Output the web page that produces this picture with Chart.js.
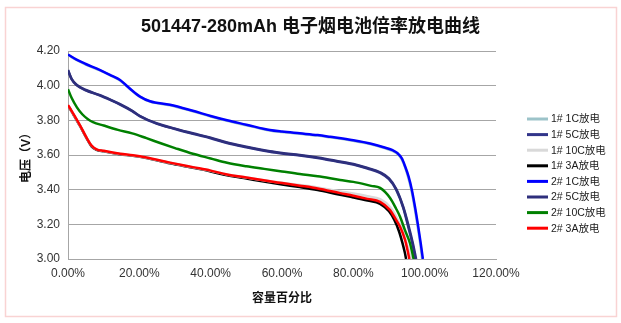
<!DOCTYPE html>
<html>
<head>
<meta charset="utf-8">
<script src="https://cdn.jsdelivr.net/npm/chart.js@4.4.1/dist/chart.umd.min.js"></script>
<style>
  html, body { margin: 0; padding: 0; background: #ffffff; }
  #wrap { position: relative; width: 621px; height: 323px; }
</style>
</head>
<body>
<div id="wrap"><canvas id="c" width="621" height="323"></canvas></div>
<script>
// Discharge capacity (%) and voltage (V) for each cell / rate
const cap_1_1C  = [0, 2.4, 5, 9, 12, 14.6, 16, 17.8, 20.2, 23, 28.6, 35, 40, 44.6, 50, 56.6, 60, 65, 70, 73.5, 80, 85, 89, 91, 92.3, 93.6, 94.5, 95.4, 96.3, 97.2, 98.1, 98.8, 99.3];
const volt_1_1C = [4.178, 4.148, 4.122, 4.088, 4.058, 4.03, 4.006, 3.973, 3.935, 3.908, 3.887, 3.852, 3.822, 3.797, 3.772, 3.741, 3.732, 3.722, 3.712, 3.702, 3.682, 3.662, 3.638, 3.624, 3.608, 3.575, 3.53, 3.47, 3.395, 3.295, 3.18, 3.085, 3.00];

const cap_1_5C  = [0, 1, 2.4, 5, 9, 12, 14.6, 18, 20.2, 25, 30, 35, 40, 44.6, 50, 56.6, 60, 65, 70, 73.5, 80, 84, 87.5, 90, 92, 94, 95.4, 96.6, 97.4];
const volt_1_5C = [4.088, 4.038, 4.003, 3.973, 3.943, 3.916, 3.891, 3.853, 3.823, 3.78, 3.75, 3.722, 3.697, 3.669, 3.645, 3.619, 3.609, 3.597, 3.582, 3.569, 3.545, 3.522, 3.497, 3.46, 3.40, 3.295, 3.185, 3.085, 3.00];

const cap_1_10C  = [0, 1, 2, 3.4, 5.2, 6.6, 8, 10, 14.6, 18.2, 22, 28.6, 35, 40, 44.6, 50, 56.6, 60, 65, 70, 76.3, 80, 84, 87.5, 90.3, 92, 93.5, 94.8, 95.7, 96.3];
const volt_1_10C = [3.886, 3.853, 3.818, 3.768, 3.70, 3.654, 3.632, 3.623, 3.606, 3.597, 3.584, 3.555, 3.529, 3.509, 3.488, 3.47, 3.449, 3.44, 3.427, 3.413, 3.39, 3.378, 3.362, 3.345, 3.30, 3.245, 3.18, 3.10, 3.04, 3.00];

const cap_1_3A  = [0, 1, 2, 3.4, 5.2, 6.6, 8, 10, 14.6, 18.2, 22, 28.6, 35, 40, 44.6, 50, 56.6, 60, 65, 70, 76.3, 80, 84, 87.5, 90, 91.5, 92.8, 93.8, 94.4, 94.8];
const volt_1_3A = [3.885, 3.852, 3.816, 3.766, 3.698, 3.65, 3.63, 3.621, 3.604, 3.595, 3.582, 3.552, 3.526, 3.505, 3.483, 3.464, 3.441, 3.43, 3.415, 3.398, 3.37, 3.355, 3.337, 3.318, 3.275, 3.225, 3.16, 3.09, 3.04, 3.00];

const cap_2_1C  = [0, 2.4, 5, 9, 12, 14.6, 16, 17.8, 20.2, 23, 28.6, 35, 40, 44.6, 50, 56.6, 60, 65, 70, 73.5, 80, 85, 89, 91, 92.3, 93.6, 94.5, 95.5, 96.4, 97.3, 98.2, 98.9, 99.5];
const volt_2_1C = [4.18, 4.15, 4.125, 4.09, 4.06, 4.033, 4.008, 3.975, 3.937, 3.91, 3.89, 3.855, 3.825, 3.80, 3.775, 3.744, 3.735, 3.725, 3.715, 3.705, 3.685, 3.665, 3.642, 3.628, 3.612, 3.58, 3.535, 3.475, 3.40, 3.30, 3.186, 3.09, 3.00];

const cap_2_5C  = [0, 1, 2.4, 5, 9, 12, 14.6, 18, 20.2, 25, 30, 35, 40, 44.6, 50, 56.6, 60, 65, 70, 73.5, 80, 84, 87.5, 90, 92, 94, 95.5, 96.7, 97.6];
const volt_2_5C = [4.09, 4.04, 4.005, 3.975, 3.945, 3.918, 3.893, 3.855, 3.825, 3.782, 3.752, 3.725, 3.70, 3.672, 3.648, 3.622, 3.612, 3.60, 3.585, 3.572, 3.548, 3.525, 3.50, 3.465, 3.405, 3.30, 3.19, 3.09, 3.00];

const cap_2_10C  = [0, 1, 2.5, 4, 5.5, 7, 10, 14, 18, 22, 26, 30, 35, 40, 44.6, 50, 55, 60, 65, 70, 76.3, 80, 85, 87.5, 90.3, 92, 93.1, 94.5, 95.9, 96.9];
const volt_2_10C = [3.98, 3.93, 3.875, 3.835, 3.808, 3.79, 3.77, 3.745, 3.725, 3.697, 3.668, 3.64, 3.607, 3.58, 3.555, 3.535, 3.52, 3.505, 3.49, 3.477, 3.456, 3.445, 3.422, 3.41, 3.352, 3.29, 3.244, 3.165, 3.09, 3.00];

const cap_2_3A  = [0, 1, 2, 3.4, 5.2, 6.6, 8, 10, 14.6, 18.2, 22, 28.6, 35, 40, 44.6, 50, 56.6, 60, 65, 70, 76.3, 80, 84, 87.5, 90.3, 92, 93.1, 94.5, 95.2, 95.7];
const volt_2_3A = [3.888, 3.855, 3.82, 3.77, 3.70, 3.655, 3.633, 3.624, 3.607, 3.598, 3.585, 3.556, 3.53, 3.51, 3.488, 3.47, 3.448, 3.438, 3.423, 3.407, 3.38, 3.365, 3.347, 3.33, 3.282, 3.225, 3.186, 3.11, 3.05, 3.00];

const seriesNames = ['1# 1C放电', '1# 5C放电', '1# 10C放电', '1# 3A放电', '2# 1C放电', '2# 5C放电', '2# 10C放电', '2# 3A放电'];
const seriesCaps  = [cap_1_1C, cap_1_5C, cap_1_10C, cap_1_3A, cap_2_1C, cap_2_5C, cap_2_10C, cap_2_3A];
const seriesVolts = [volt_1_1C, volt_1_5C, volt_1_10C, volt_1_3A, volt_2_1C, volt_2_5C, volt_2_10C, volt_2_3A];
const seriesColors = ['#9cc3c9', '#32358a', '#d9d9d9', '#000000', '#0000ff', '#2e2f7c', '#008000', '#ff0000'];

const chartTitle = '501447-280mAh 电子烟电池倍率放电曲线';
const xTitle = '容量百分比';
const yTitle = '电压（V）';

const FONT = "'Liberation Sans', 'Noto Sans CJK SC', Arial, sans-serif";

const datasets = seriesNames.map((name, i) => ({
  label: name,
  data: seriesCaps[i].map((x, k) => ({ x: x, y: seriesVolts[i][k] })),
  borderColor: seriesColors[i],
  backgroundColor: seriesColors[i],
  borderWidth: 2.5,
  pointRadius: 0,
  fill: false,
  cubicInterpolationMode: 'monotone',
  // cell 2 curves sit on top of cell 1 curves
  order: i < 4 ? 1 : 0
}));

// outer frame and side legend
const frameAndLegend = {
  id: 'frameAndLegend',
  beforeDraw(chart) {
    const ctx = chart.ctx;
    ctx.save();
    ctx.fillStyle = '#ffffff';
    ctx.fillRect(0, 0, chart.width, chart.height);
    ctx.strokeStyle = '#f9d3d3';
    ctx.lineWidth = 1.5;
    ctx.strokeRect(5.5, 7.5, 611, 309);
    ctx.restore();
  },
  afterDraw(chart) {
    const ctx = chart.ctx;
    ctx.save();
    ctx.font = "10.5px " + FONT;
    ctx.textBaseline = 'middle';
    ctx.textAlign = 'left';
    chart.data.datasets.forEach((ds, i) => {
      const y = 119 + i * 15.6;
      ctx.strokeStyle = ds.borderColor;
      ctx.lineWidth = 3;
      ctx.beginPath();
      ctx.moveTo(527, y);
      ctx.lineTo(548, y);
      ctx.stroke();
      ctx.fillStyle = '#1a1a1a';
      ctx.fillText(ds.label, 551, y + 0.5);
    });
    ctx.restore();
  }
};

new Chart(document.getElementById('c'), {
  type: 'line',
  data: { datasets },
  options: {
    responsive: false,
    animation: false,
    events: [],
    layout: { padding: { left: 5, right: 5, top: 0, bottom: 0 } },
    plugins: {
      legend: { display: false },
      tooltip: { enabled: false },
      title: {
        display: true,
        text: chartTitle,
        color: '#111111',
        font: { family: FONT, size: 18, weight: 'bold' },
        padding: { top: 16, bottom: 13.4 }
      }
    },
    scales: {
      x: {
        type: 'linear',
        min: 0,
        max: 120,
        ticks: {
          stepSize: 20,
          padding: 7,
          color: '#333333',
          font: { family: FONT, size: 12 },
          maxRotation: 0,
          callback: v => v.toFixed(2) + '%'
        },
        grid: { display: false, drawTicks: false },
        border: { display: true, color: '#a6a6a6', width: 1 },
        title: {
          display: true,
          text: xTitle,
          color: '#111111',
          font: { family: FONT, size: 12, weight: 'bold' },
          padding: { top: 0, bottom: 17 }
        },
        afterFit(s) { s.height = 64; }
      },
      y: {
        type: 'linear',
        min: 3,
        max: 4.2,
        ticks: {
          stepSize: 0.2,
          padding: 8,
          color: '#333333',
          font: { family: FONT, size: 12 },
          callback: v => v.toFixed(2)
        },
        grid: { color: '#a6a6a6', lineWidth: 1, drawTicks: false },
        border: { display: true, color: '#a6a6a6', width: 1 },
        title: {
          display: true,
          text: yTitle,
          color: '#111111',
          font: { family: FONT, size: 12, weight: 'bold' },
          padding: { top: 14, bottom: 0 }
        },
        afterFit(s) { s.width = 63; }
      },
      ySide: {
        type: 'linear',
        position: 'right',
        display: true,
        ticks: { display: false },
        grid: { display: false, drawTicks: false },
        border: { display: false },
        afterFit(s) { s.width = 120; }
      }
    }
  },
  plugins: [frameAndLegend]
});
</script>
</body>
</html>
